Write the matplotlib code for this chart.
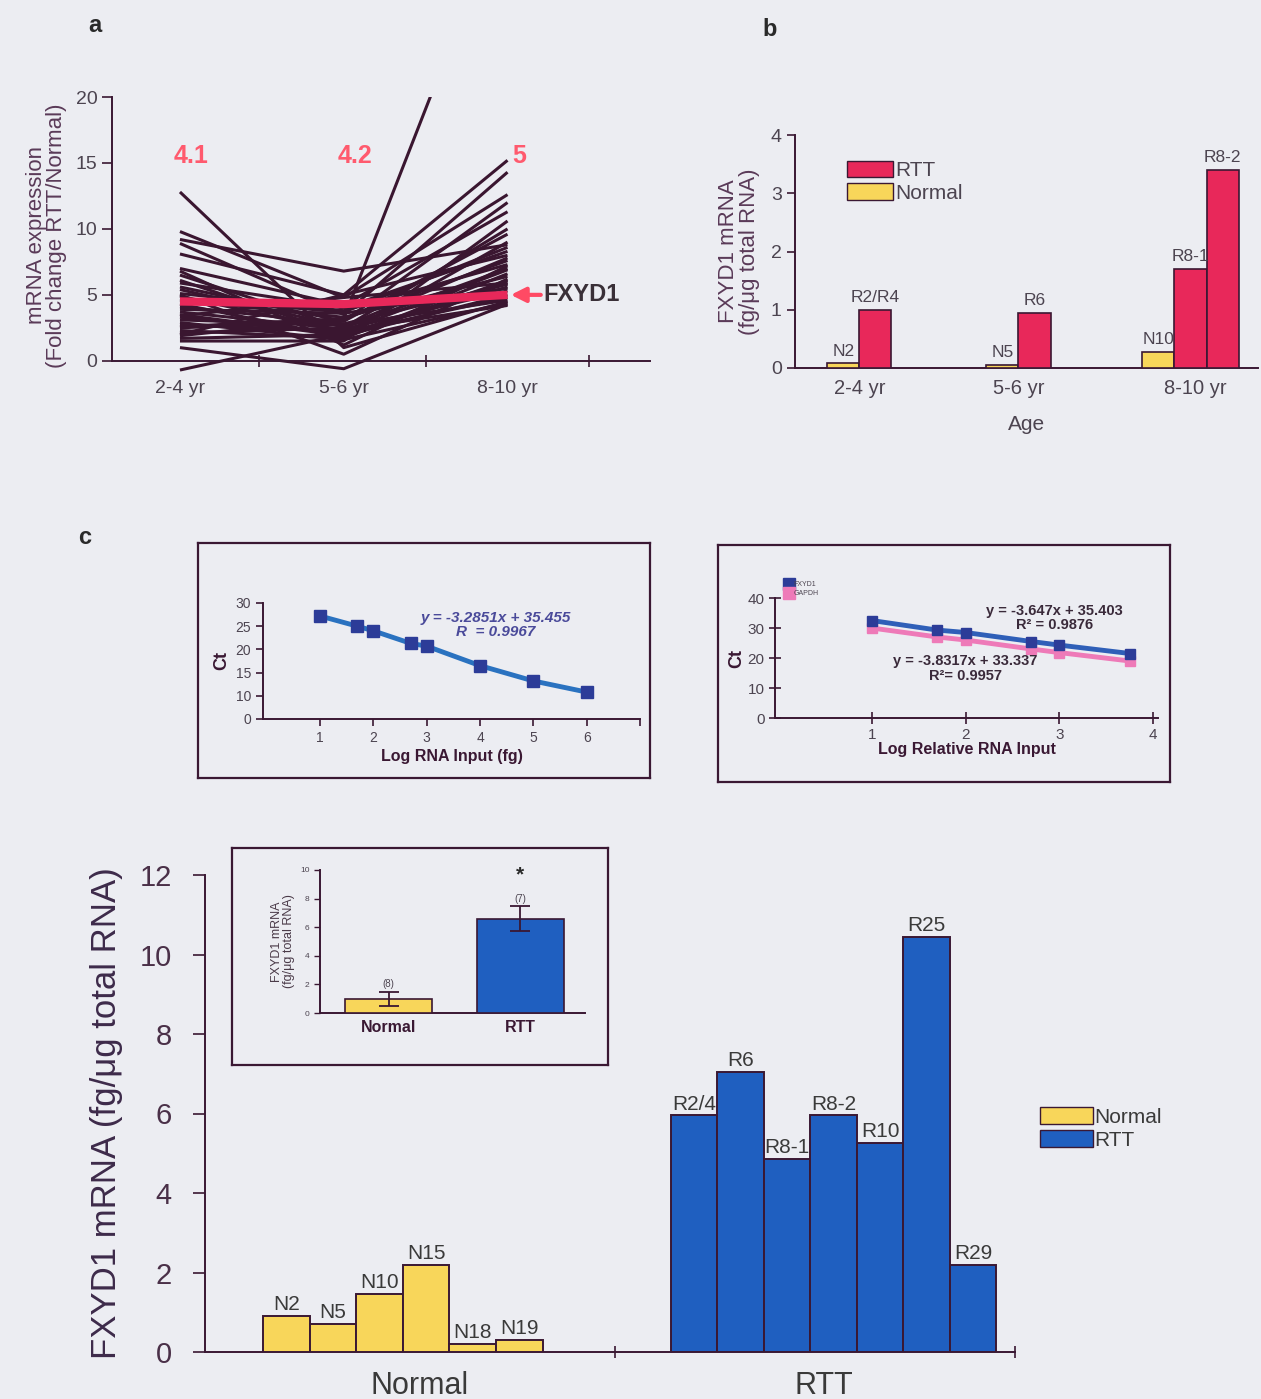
import matplotlib
matplotlib.use('Agg')
import matplotlib.pyplot as plt
from matplotlib.patches import Patch
from matplotlib.lines import Line2D

plt.rcParams['font.family'] = ['Liberation Sans', 'DejaVu Sans']

W, H = 1261, 1399
BG = '#ecedf2'
INK = '#3a1833'
TXT = '#4c4450'
RED = '#e8285a'
YEL = '#f8d65a'
BLUE = '#1f5fc0'
LINE = '#3a1630'

# ---- panel a: fold change per gene across age groups
age_groups = ['2-4 yr', '5-6 yr', '8-10 yr']
gene_lines = [
    [12.8, 1.0, 4.5], [9.8, 4.8, 12.6], [9.2, 6.8, 8.8], [8.9, 3.5, 14.3],
    [8.1, 5.0, 15.2], [7.0, 4.2, 11.3], [6.5, 2.5, 10.0], [6.1, 2.0, 9.0],
    [5.9, 4.0, 8.3], [5.6, 3.0, 12.0], [5.4, 2.6, 7.8], [5.1, 3.8, 7.3],
    [4.9, 2.2, 6.9], [4.6, 3.3, 6.4], [4.3, 1.8, 6.1], [4.1, 2.8, 5.8],
    [3.9, 3.6, 5.5], [3.7, 2.4, 5.3], [3.5, 1.9, 5.0], [3.3, 2.1, 4.8],
    [3.1, 2.7, 4.6], [2.9, 1.6, 4.4], [2.7, 2.3, 4.2], [2.5, 3.0, 9.6],
    [2.3, 1.7, 6.6], [2.1, 2.5, 7.0], [1.9, 3.2, 7.6], [1.7, 2.0, 5.6],
    [1.5, 1.5, 10.6], [-0.7, 2.0, 5.9], [1.0, -0.6, 4.3], [2.6, 3.2, 35.0],
    [5.0, 0.5, 6.2], [3.4, 4.8, 5.9], [2.0, 5.0, 8.0], [4.7, 3.7, 8.6],
    [6.8, 1.2, 7.2],
]
fxyd1_fold = [4.5, 4.3, 5.0]
mean_fold = ['4.1', '4.2', '5']

# ---- panel b: absolute FXYD1 by age
b_names = ['N2', 'R2/R4', 'N5', 'R6', 'N10', 'R8-1', 'R8-2']
b_values = [0.08, 1.0, 0.06, 0.95, 0.28, 1.7, 3.4]
b_group = [0, 0, 1, 1, 2, 2, 2]
b_slot = [-0.5, 0.5, -0.5, 0.5, -1, 0, 1]
b_kind = ['Normal', 'RTT', 'Normal', 'RTT', 'Normal', 'RTT', 'RTT']

# ---- panel c: standard curves
std_log_input = [1, 1.7, 2, 2.7, 3, 4, 5, 6]
std_ct = [27.2, 25.0, 24.0, 21.3, 20.7, 16.5, 13.2, 10.8]
rel_log_input = [1, 1.7, 2, 2.7, 3, 3.75]
fxyd1_ct = [32.5, 29.3, 28.5, 25.5, 24.3, 21.5]
gapdh_ct = [30.0, 27.0, 26.0, 23.0, 21.8, 19.0]

# ---- panel c: per sample
normal_ids = ['N2', 'N5', 'N10', 'N15', 'N18', 'N19']
normal_vals = [0.9, 0.7, 1.45, 2.2, 0.2, 0.3]
rtt_ids = ['R2/4', 'R6', 'R8-1', 'R8-2', 'R10', 'R25', 'R29']
rtt_vals = [5.95, 7.05, 4.85, 5.95, 5.25, 10.45, 2.2]
mean_groups = ['Normal', 'RTT']
mean_vals = [1.0, 6.6]
mean_err = [0.5, 0.85]
n_samples = ['(8)', '(7)']


def box(l, t, r, b):
    return [l / W, 1 - b / H, (r - l) / W, (b - t) / H]


def style(ax, fs, color=TXT):
    ax.set_facecolor('none')
    for s in ['top', 'right']:
        ax.spines[s].set_visible(False)
    for s in ['left', 'bottom']:
        ax.spines[s].set_color(INK)
        ax.spines[s].set_linewidth(1.4)
    ax.tick_params(colors=INK, labelcolor=color, labelsize=fs, width=1.2)


def frame(rect):
    f = fig.add_axes(box(*rect))
    f.set_facecolor(BG)
    f.set_xticks([])
    f.set_yticks([])
    for s in f.spines.values():
        s.set_color(INK)
        s.set_linewidth(1.6)
    return f


fig = plt.figure(figsize=(W / 100, H / 100), dpi=100, facecolor=BG)

# ================= panel a
ax = fig.add_axes(box(112, 97, 650, 374))
style(ax, 14)
for vals in gene_lines:
    ax.plot(range(3), vals, color=LINE, lw=2.2, solid_capstyle='butt')
ax.plot(range(3), fxyd1_fold, color=RED, lw=6, solid_capstyle='butt')
ax.set_ylim(-1, 20)
ax.set_xlim(-0.415, 2.87)
ax.spines['bottom'].set_position(('data', 0))
ax.spines['left'].set_bounds(0, 20)
ax.set_yticks([0, 5, 10, 15, 20])
ax.set_xticks(range(3))
ax.set_xticklabels(age_groups)
ax.tick_params(axis='x', length=0, pad=14)
ax.set_xticks([0.48, 1.5, 2.5], minor=True)
ax.tick_params(axis='x', which='minor', length=9, direction='inout', color=INK, width=1.2)
ax.tick_params(axis='y', length=7)
ax.set_ylabel('mRNA expression\n(Fold change RTT/Normal)', fontsize=16, color='#5a3a58',
              labelpad=6, linespacing=0.95)
for i, t in enumerate(mean_fold):
    ax.text(i + 0.07, 15.5, t, color='#ff5a6e', fontsize=18, fontweight='bold', ha='center', va='center')
ax.annotate('FXYD1', xy=(2.02, 5), xytext=(2.22, 5), fontsize=17, fontweight='bold', color='#3a3038',
            va='center', ha='left',
            arrowprops=dict(arrowstyle='-|>', color='#ff4a64', lw=3, mutation_scale=22, shrinkA=0, shrinkB=0))
fig.text(95 / W, 1 - 25 / H, 'a', fontsize=17, fontweight='bold', color='#2a2a2a', ha='center', va='center')

# ================= panel b
centers = [2.0, 6.95, 12.3]
ax = fig.add_axes(box(795, 135, 1258, 368))
style(ax, 14)
bx = [centers[g] + s for g, s in zip(b_group, b_slot)]
bc = [YEL if k == 'Normal' else RED for k in b_kind]
ax.bar(bx, b_values, width=1.0, color=bc, edgecolor=INK, linewidth=1.2, zorder=3)
for x, v, n in zip(bx, b_values, b_names):
    ax.text(x, v + 0.08, n, fontsize=12.5, color=TXT, ha='center', va='bottom')
ax.set_ylim(0, 4)
ax.set_xlim(0, 14.4)
ax.set_yticks(range(5))
ax.tick_params(axis='y', length=6)
ax.set_xticks([centers[0], centers[1], 12.45])
ax.set_xticklabels(age_groups, fontsize=14.5)
ax.tick_params(axis='x', length=0, pad=8)
ax.set_xlabel('Age', fontsize=15, color=TXT, labelpad=12)
ax.set_ylabel('FXYD1 mRNA\n(fg/μg total RNA)', fontsize=16, color='#5a3a58', labelpad=8, linespacing=0.95)
ax.legend(handles=[Patch(facecolor=RED, edgecolor=INK, label='RTT'),
                   Patch(facecolor=YEL, edgecolor=INK, label='Normal')],
          loc='upper left', bbox_to_anchor=(0.09, 0.935), frameon=False, fontsize=15,
          handlelength=2.2, handleheight=0.85, handletextpad=0.1, labelspacing=0.15,
          borderpad=0, labelcolor=TXT)
fig.text(770 / W, 1 - 30 / H, 'b', fontsize=17, fontweight='bold', color='#2a2a2a', ha='center', va='center')

# ================= panel c: left standard curve
fig.text(85 / W, 1 - 538 / H, 'c', fontsize=17, fontweight='bold', color='#2a2a2a', ha='center', va='center')
frame((198, 543, 650, 778))
ax = fig.add_axes(box(263, 603, 640, 719))
style(ax, 10)
ax.plot(std_log_input, std_ct, color='#2a72c0', lw=3.5, zorder=2)
ax.plot(std_log_input, std_ct, ls='none', marker='s', ms=8, color='#2c3c98', zorder=3)
ax.set_xlim(-0.07, 7.0)
ax.set_ylim(5, 30)
ax.set_yticks([5, 10, 15, 20, 25, 30])
ax.set_yticklabels(['0', '10', '15', '20', '25', '30'])
ax.set_xticks(range(1, 8))
ax.set_xticklabels([str(i) for i in range(1, 7)] + [''])
ax.tick_params(length=5, width=1.2)
ax.set_xlabel('Log RNA Input (fg)', fontsize=11.5, fontweight='bold', color=INK, labelpad=3)
ax.set_ylabel('Ct', fontsize=13, fontweight='bold', color=INK, labelpad=4)
ax.text(4.3, 25.3, 'y = -3.2851x + 35.455\nR  = 0.9967', fontsize=11, fontweight='bold',
        fontstyle='italic', color='#4a4a9a', ha='center', va='center', linespacing=1.0)

# ================= panel c: right standard curves
frame((718, 545, 1170, 782))
ax = fig.add_axes(box(775, 598, 1158, 718))
style(ax, 11)
ax.plot(rel_log_input, gapdh_ct, color='#ee7ab8', lw=3.5, marker='s', ms=7, label='GAPDH', zorder=2)
ax.plot(rel_log_input, fxyd1_ct, color='#2f5fb8', lw=3.5, marker='s', ms=7, mfc='#2c3c98',
        mec='#2c3c98', label='FXYD1', zorder=3)
ax.set_xlim(-0.03, 4.05)
ax.set_ylim(0, 40)
ax.set_xticks([1, 2, 3, 4])
ax.set_yticks([0, 10, 20, 30, 40])
ax.tick_params(direction='inout', length=8, width=1.2)
ax.set_xlabel('Log Relative RNA Input', fontsize=11.5, fontweight='bold', color=INK, labelpad=0)
ax.set_ylabel('Ct', fontsize=13, fontweight='bold', color=INK, labelpad=2)
ax.text(2.95, 33.5, 'y = -3.647x + 35.403\nR² = 0.9876', fontsize=10.5, fontweight='bold',
        color='#3a2a3a', ha='center', va='center', linespacing=1.0)
ax.text(2.0, 16.5, 'y = -3.8317x + 33.337\nR²= 0.9957', fontsize=10.5, fontweight='bold',
        color='#3a2a3a', ha='center', va='center', linespacing=1.0)
h = [Line2D([], [], ls='none', marker='s', ms=8, color='#2c3c98'),
     Line2D([], [], ls='none', marker='s', ms=8, color='#ee7ab8')]
ax.legend(h, ['FXYD1', 'GAPDH'], loc='upper left', bbox_to_anchor=(0.02, 1.17), frameon=False,
          fontsize=5, handlelength=0.8, handletextpad=0.3, labelspacing=0.3, borderpad=0,
          labelcolor=TXT)

# ================= panel c: per-sample bars
ax = fig.add_axes(box(205, 875, 1015, 1352))
style(ax, 21, color='#4a3048')
nx = [1.75 + i for i in range(len(normal_vals))]
rx = [10.5 + i for i in range(len(rtt_vals))]
ax.bar(nx, normal_vals, width=1.0, color=YEL, edgecolor=INK, linewidth=1.4, zorder=3)
ax.bar(rx, rtt_vals, width=1.0, color=BLUE, edgecolor=INK, linewidth=1.4, zorder=3)
for x, v, n in list(zip(nx, normal_vals, normal_ids)) + list(zip(rx, rtt_vals, rtt_ids)):
    ax.text(x, v + 0.05, n, fontsize=15, color='#3a3a3a', ha='center', va='bottom')
ax.set_ylim(0, 12)
ax.set_xlim(0, 17.4)
ax.set_yticks(range(0, 13, 2))
ax.tick_params(axis='y', length=9, pad=15)
ax.set_xticks([4.6, 13.3])
ax.set_xticklabels(mean_groups, fontsize=22, color='#3a3a3a')
ax.tick_params(axis='x', length=0, pad=14)
ax.set_xticks([8.8, 17.4], minor=True)
ax.tick_params(axis='x', which='minor', length=9, direction='inout', color=INK, width=1.2)
ax.set_ylabel('FXYD1 mRNA (fg/μg total RNA)', fontsize=25, color='#3d2a4a', labelpad=12)
fig.legend(handles=[Patch(facecolor=YEL, edgecolor=INK, label='Normal'),
                    Patch(facecolor=BLUE, edgecolor=INK, label='RTT')],
           loc='upper left', bbox_to_anchor=(1030 / W, 1 - 1097 / H), frameon=False, fontsize=15,
           handlelength=2.5, handleheight=0.85, handletextpad=0.1, labelspacing=0.15, borderpad=0,
           labelcolor='#3a3a3a')

# inset with group means
frame((232, 848, 608, 1065))
ax = fig.add_axes(box(320, 870, 585, 1013))
style(ax, 6)
ax.bar([0, 1], mean_vals, width=0.66, color=[YEL, BLUE], edgecolor=INK, linewidth=1.2,
       yerr=mean_err, error_kw=dict(ecolor=INK, elinewidth=1.3, capsize=7, capthick=1.3), zorder=3)
for i, (v, e, n) in enumerate(zip(mean_vals, mean_err, n_samples)):
    ax.text(i, v + e + 0.2, n, fontsize=7, color=TXT, ha='center', va='bottom')
ax.text(1, 9.0, '*', fontsize=15, fontweight='bold', color='#2a2a2a', ha='center', va='bottom')
ax.set_xlim(-0.52, 1.49)
ax.set_ylim(0, 10)
ax.set_yticks(range(0, 11, 2))
ax.tick_params(axis='y', length=4, width=1)
ax.set_xticks([0, 1])
ax.set_xticklabels(mean_groups, fontsize=11.5, fontweight='bold', color=INK)
ax.tick_params(axis='x', length=0, pad=5)
ax.set_ylabel('FXYD1 mRNA\n(fg/μg total RNA)', fontsize=9, color='#4a3a48', labelpad=4, linespacing=0.95)

fig.savefig('out.png', dpi=100, facecolor=BG)
